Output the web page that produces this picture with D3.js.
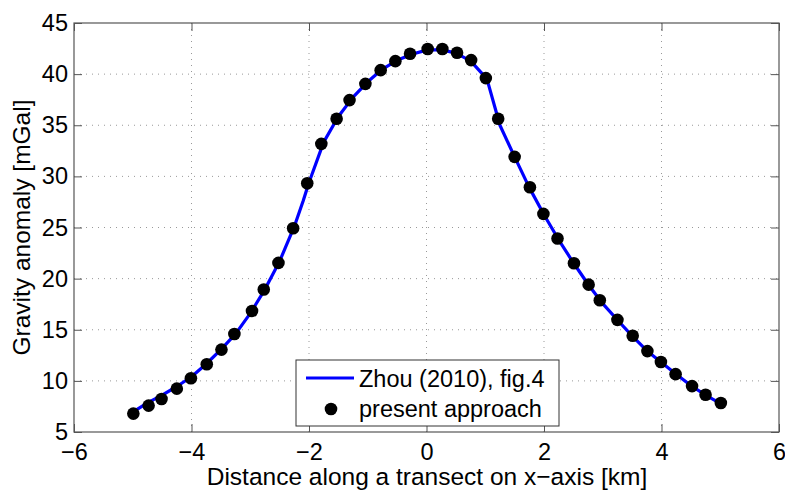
<!DOCTYPE html>
<html>
<head>
<meta charset="utf-8">
<script src="https://cdn.jsdelivr.net/npm/d3@7"></script>
<style>
  body { margin: 0; background: #fff; }
  text { font-family: "Liberation Sans", Arial, sans-serif; fill: #000; }
</style>
</head>
<body>
<div id="chart"></div>
<script>
// data
var dotX = [-4.99, -4.73, -4.51, -4.25, -4.01, -3.74, -3.49, -3.27, -2.97, -2.77,
            -2.52, -2.27, -2.03, -1.79, -1.53, -1.31, -1.04, -0.78, -0.53, -0.28,
             0.02,  0.27,  0.52,  0.76,  1.01,  1.22,  1.50,  1.76,  1.99,  2.23,
             2.51,  2.76,  2.95,  3.25,  3.51,  3.76,  3.99,  4.24,  4.52,  4.75, 5.01];
var dotY = [ 6.80,  7.58,  8.23,  9.24, 10.25, 11.62, 13.06, 14.59, 16.84, 18.93,
            21.54, 24.93, 29.32, 33.18, 35.63, 37.46, 39.05, 40.39, 41.27, 41.99,
            42.45, 42.45, 42.09, 41.37, 39.61, 35.63, 31.91, 28.94, 26.33, 23.92,
            21.50, 19.41, 17.88, 15.97, 14.42, 12.91, 11.84, 10.66,  9.49,  8.65, 7.83];

// Zhou (2010) curve
var zhouX = [-5.0, -4.75, -4.5, -4.25, -4.0, -3.75, -3.5, -3.25, -3.0, -2.75,
             -2.5, -2.25, -2.1, -2.0, -1.75, -1.5, -1.25, -1.0, -0.75, -0.5,
             -0.25, 0.0, 0.25, 0.5, 0.75, 1.0, 1.05, 1.25, 1.5, 1.75, 2.0,
              2.25, 2.5, 2.75, 3.0, 3.25, 3.5, 3.75, 4.0, 4.25, 4.5, 4.75, 5.0];
var zhouY = [ 6.95,  7.85,  8.6,  9.45, 10.4, 11.65, 13.05, 14.6, 16.6, 18.95,
             21.7, 25.1, 27.6, 29.4, 33.35, 35.85, 37.75, 39.25, 40.5, 41.35,
             41.95, 42.35, 42.4, 42.05, 41.3, 39.7, 39.1, 35.0, 31.9, 28.9, 26.25,
             23.8, 21.55, 19.45, 17.55, 15.95, 14.4, 12.95, 11.8, 10.65, 9.55, 8.6, 7.8];

var xTicks = [-6, -4, -2, 0, 2, 4, 6];
var yTicks = [5, 10, 15, 20, 25, 30, 35, 40, 45];
var legendLabels = ["Zhou (2010), fig.4", "present approach"];

var W = 785, H = 490;
var margin = {top: 23, right: 6, bottom: 58, left: 74},
    width = W - margin.left - margin.right,
    height = H - margin.top - margin.bottom;

var svg = d3.select("#chart").append("svg")
    .attr("width", W)
    .attr("height", H);

var g = svg.append("g")
    .attr("transform", "translate(" + margin.left + "," + margin.top + ")");

var x = d3.scaleLinear().domain([-6, 6]).range([0, width]);
var y = d3.scaleLinear().domain([5, 45]).range([height, 0]);

// grid
g.append("g").selectAll("line")
    .data(xTicks.slice(1, -1))
    .enter().append("line")
    .attr("x1", function (d) { return x(d); })
    .attr("x2", function (d) { return x(d); })
    .attr("y1", 0).attr("y2", height)
    .attr("stroke", "#999").attr("stroke-dasharray", "1,5");
g.append("g").selectAll("line")
    .data(yTicks.slice(1, -1))
    .enter().append("line")
    .attr("y1", function (d) { return y(d); })
    .attr("y2", function (d) { return y(d); })
    .attr("x1", 0).attr("x2", width)
    .attr("stroke", "#999").attr("stroke-dasharray", "1,5");

// axes (ticks inward, MATLAB style)
var fmt = d3.format("");
function styleAxis(sel) {
    sel.select(".domain").remove();
    sel.selectAll(".tick line").attr("stroke", "#555");
    sel.selectAll(".tick text").style("font-size", "23.5px")
        .style("font-family", "'Liberation Sans', Arial, sans-serif").attr("fill", "#000");
}
g.append("g")
    .attr("transform", "translate(0," + height + ")")
    .call(d3.axisBottom(x).tickValues(xTicks).tickFormat(fmt).tickSizeInner(-8).tickPadding(11))
    .call(styleAxis);
g.append("g")
    .call(d3.axisTop(x).tickValues(xTicks).tickSizeInner(-8).tickFormat(""))
    .call(styleAxis);
g.append("g")
    .call(d3.axisLeft(y).tickValues(yTicks).tickFormat(fmt).tickSizeInner(-8).tickPadding(6))
    .call(styleAxis);
g.append("g")
    .attr("transform", "translate(" + width + ",0)")
    .call(d3.axisRight(y).tickValues(yTicks).tickSizeInner(-8).tickFormat(""))
    .call(styleAxis);

g.append("rect")
    .attr("width", width).attr("height", height)
    .attr("fill", "none").attr("stroke", "#555").attr("stroke-width", 1.2);

// Zhou curve
var line = d3.line()
    .x(function (d, i) { return x(zhouX[i]); })
    .y(function (d, i) { return y(zhouY[i]); });
g.append("path")
    .datum(zhouX)
    .attr("d", line)
    .attr("fill", "none")
    .attr("stroke", "#0000ff")
    .attr("stroke-width", 3.2)
    .attr("stroke-linejoin", "round");

// present approach dots
g.append("g").selectAll("circle")
    .data(dotX)
    .enter().append("circle")
    .attr("cx", function (d) { return x(d); })
    .attr("cy", function (d, i) { return y(dotY[i]); })
    .attr("r", 6.3)
    .attr("fill", "#000");

// axis labels
svg.append("text")
    .attr("x", margin.left + width / 2 + 0.5)
    .attr("y", 485)
    .attr("text-anchor", "middle")
    .style("font-size", "24.5px")
    .text("Distance along a transect on x\u2212axis [km]");
svg.append("text")
    .attr("transform", "translate(30," + (margin.top + height / 2) + ") rotate(-90)")
    .attr("text-anchor", "middle")
    .style("font-size", "24.5px")
    .text("Gravity anomaly [mGal]");

// legend
var lg = svg.append("g").attr("transform", "translate(296,360)");
lg.append("rect")
    .attr("width", 263).attr("height", 66)
    .attr("fill", "#fff").attr("stroke", "#333").attr("stroke-width", 1);
lg.append("line")
    .attr("x1", 10).attr("x2", 58).attr("y1", 18).attr("y2", 18)
    .attr("stroke", "#0000ff").attr("stroke-width", 3.2);
lg.append("circle")
    .attr("cx", 35).attr("cy", 49).attr("r", 6.3).attr("fill", "#000");
lg.selectAll("text.lbl")
    .data(legendLabels)
    .enter().append("text")
    .attr("class", "lbl")
    .attr("x", 63)
    .attr("y", function (d, i) { return 27 + i * 30; })
    .style("font-size", "23.5px")
    .text(function (d) { return d; });
</script>
</body>
</html>
